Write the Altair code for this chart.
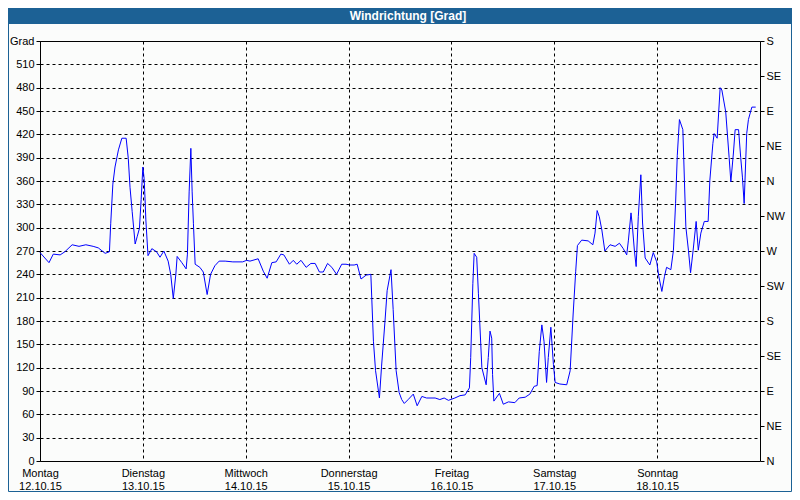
import altair as alt
import pandas as pd

title_text = "Windrichtung [Grad]"

hours = [0.0, 2.1, 3.1, 4.7, 5.8, 7.5, 9.1, 10.7, 12.4, 13.6, 15.2, 16.2, 16.5, 17.0, 17.5, 18.3,
         19.1, 20.1, 20.6, 21.0, 21.5, 22.2, 22.7, 23.2, 23.6, 24.0, 24.3, 24.5, 24.7, 25.2, 26.1,
         27.2, 28.0, 28.9, 29.9, 30.5, 31.1, 31.7, 32.0, 33.1, 34.1, 34.4, 34.8, 35.2, 35.5, 35.8,
         36.2, 37.3, 38.1, 39.0, 39.8, 40.8, 41.8, 43.2, 45.0, 47.3, 48.2, 49.0, 50.9, 52.1, 53.0,
         54.1, 55.1, 56.2, 56.9, 58.2, 59.1, 59.9, 60.9, 62.1, 63.2, 64.2, 65.2, 66.1, 67.1, 68.1,
         69.2, 70.4, 71.4, 72.3, 73.3, 74.0, 74.9, 76.1, 77.2, 77.8, 78.3, 79.2, 79.7, 80.5, 81.0,
         81.9, 82.4, 83.1, 83.8, 84.4, 85.0, 85.9, 87.1, 88.0, 89.1, 90.2, 92.2, 93.3, 94.3, 95.3,
         96.8, 98.0, 99.2, 100.2, 100.5, 101.0, 101.3, 101.9, 102.3, 103.1, 104.1, 104.6, 105.0,
         105.4, 105.6, 105.9, 107.2, 108.1, 109.3, 110.8, 111.8, 113.2, 114.3, 115.3, 116.0, 116.5,
         117.1, 117.6, 118.2, 118.6, 119.2, 119.8, 120.2, 121.3, 122.9, 123.7, 124.4, 125.0, 125.4,
         126.4, 127.9, 129.0, 129.5, 130.0, 130.5, 131.1, 131.8, 133.0, 134.2, 135.2, 136.1, 136.9,
         137.3, 137.9, 138.3, 138.7, 139.1, 139.6, 140.2, 140.6, 141.2, 142.3, 143.1, 143.9, 144.4,
         145.1, 145.7, 146.2, 147.2, 147.8, 148.3, 148.7, 149.2, 150.0, 150.7, 151.3, 151.8, 152.4,
         153.1, 153.6, 154.2, 155.0, 155.9, 156.3, 157.0, 157.3, 158.0, 158.7, 159.1, 160.0, 160.8,
         161.2, 161.8, 162.2, 163.0, 163.5, 163.9, 164.3, 164.9, 165.3, 166.1, 167.0]

degrees = [268, 255, 266, 265, 269, 278, 276, 278, 276, 274, 267, 269, 305, 356, 378, 400,
           415, 415, 389, 352, 321, 279, 289, 299, 336, 378, 363, 338, 310, 264, 273,
           269, 262, 270, 257, 240, 209, 240, 263, 255, 247, 266, 346, 402, 346, 305,
           253, 249, 243, 214, 240, 251, 257, 257, 256, 256, 258, 257, 260, 244, 235,
           255, 256, 266, 265, 253, 258, 253, 258, 249, 254, 254, 243, 243, 254, 249,
           240, 253, 253, 252, 252, 253, 234, 239, 240, 154, 116, 81, 122, 180, 219,
           246, 195, 116, 88, 79, 74, 79, 86, 71, 83, 81, 81, 79, 81, 78,
           81, 84, 85, 94, 133, 228, 267, 262, 215, 120, 98, 133, 167,
           158, 111, 77, 87, 73, 76, 75, 81, 82, 86, 96, 97, 141,
           175, 154, 101, 133, 172, 124, 101, 99, 98, 116, 189, 244, 277,
           284, 283, 278, 293, 322, 314, 297, 270, 278, 276, 280, 273, 265,
           284, 319, 297, 270, 250, 314, 368, 306, 261, 252, 268, 256, 237,
           218, 237, 249, 246, 271, 331, 393, 439, 426, 301, 271, 242, 271,
           308, 271, 293, 308, 308, 361, 408, 421, 415, 480, 477, 449, 390,
           359, 396, 426, 426, 390, 365, 331, 421, 439, 455, 455]

day_names = ["Montag", "Dienstag", "Mittwoch", "Donnerstag", "Freitag", "Samstag", "Sonntag"]
day_dates = ["12.10.15", "13.10.15", "14.10.15", "15.10.15", "16.10.15", "17.10.15", "18.10.15"]
day_ticks = [0, 24, 48, 72, 96, 120, 144, 168]

grad_ticks = list(range(0, 541, 30))
compass_labels = ["N", "NE", "E", "SE", "S", "SW", "W", "NW", "N", "NE", "E", "SE", "S"]
compass_ticks = list(range(0, 541, 45))

df = pd.DataFrame({"h": hours, "deg": degrees})
compass_df = pd.DataFrame({"deg": compass_ticks})

FONT = "Liberation Sans"
day_arr = "[" + ",".join("['%s','%s']" % (n, d) for n, d in zip(day_names, day_dates)) + "]"
x_label_expr = "datum.value < 168 ? %s[round(datum.value/24)] : ''" % day_arr
comp_arr = "[" + ",".join("'%s'" % c for c in compass_labels) + "]"
r_label_expr = "%s[round(datum.value/45)]" % comp_arr

yscale = alt.Scale(domain=[0, 540], nice=False, zero=True)

line = alt.Chart(df).mark_line(color="#0000ff", strokeWidth=1).encode(
    x=alt.X("h:Q", scale=alt.Scale(domain=[0, 168], nice=False, zero=False),
            axis=alt.Axis(title=None, values=day_ticks, labelExpr=x_label_expr,
                          grid=True, ticks=False, labelPadding=6, labelBaseline="top",
                          labelLineHeight=13, labelAlign="center", labelFlush=False,
                          domain=False)),
    y=alt.Y("deg:Q", scale=yscale,
            axis=alt.Axis(title=None, values=grad_ticks, grid=True, tickSize=4,
                          labelPadding=2, domain=False, labelFlush=False,
                          labelExpr="datum.value == 540 ? 'Grad' : datum.label")),
)

right = alt.Chart(compass_df).mark_point(opacity=0).encode(
    y=alt.Y("deg:Q", scale=yscale,
            axis=alt.Axis(title=None, orient="right", values=compass_ticks, grid=False,
                          tickSize=4, labelPadding=2, domain=False, labelFlush=False,
                          labelExpr=r_label_expr)),
)

deco = pd.DataFrame({"t": [title_text]})
bar = alt.Chart(deco).mark_rect(color="#1c6195").encode(
    x=alt.value(-32), x2=alt.value(752), y=alt.value(-33), y2=alt.value(-17))
bar_text = alt.Chart(deco).mark_text(color="white", font=FONT, fontSize=12, fontWeight="bold",
                                     align="center", baseline="middle").encode(
    x=alt.value(368), y=alt.value(-25), text="t:N")
frame = alt.Chart(deco).mark_rect(filled=False, stroke="#1c6195", strokeWidth=1).encode(
    x=alt.value(-31.5), x2=alt.value(751.5), y=alt.value(-32.5), y2=alt.value(450.5))

chart = alt.layer(frame, bar, bar_text, line, right).resolve_scale(y="independent").properties(
    width=720, height=420,
    padding={"left": 32, "top": 33, "right": 32, "bottom": 31},
    autosize="none",
    background="#fbfcfb",
).configure_axis(
    labelFont=FONT, labelFontSize=11, labelColor="black",
    tickColor="black", gridColor="black", gridDash=[3, 3], gridOpacity=1, gridWidth=1,
).configure_view(stroke="black", strokeWidth=1)

chart.save("out.html", embed_options={"renderer": "svg", "actions": False})
